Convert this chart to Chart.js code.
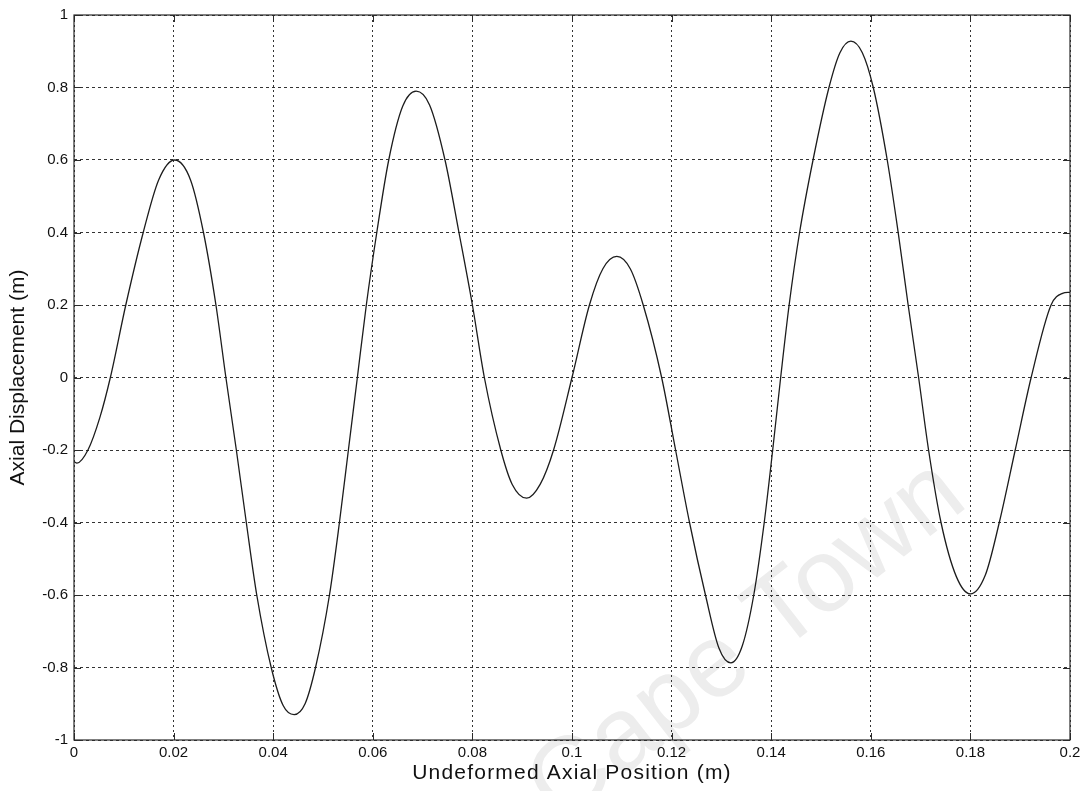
<!DOCTYPE html>
<html>
<head>
<meta charset="utf-8">
<title>Axial Displacement</title>
<script src="https://cdn.jsdelivr.net/npm/chart.js@4.4.1/dist/chart.umd.min.js"></script>
<style>
  html, body { margin: 0; padding: 0; background: #fff; }
  #wrap { width: 1086px; height: 791px; }
</style>
</head>
<body>
<div id="wrap"><canvas id="chartAxial" width="1086" height="791"></canvas></div>
<script>
// Datos: posición axial sin deformar (m) y desplazamiento axial (m)
const positionM = [
  0, 0.0006, 0.0028, 0.0052, 0.0073, 0.0104, 0.0139, 0.017, 0.0202, 0.0234,
  0.026, 0.0285, 0.0305, 0.0326, 0.0346, 0.0367, 0.0396, 0.042, 0.0442, 0.0464,
  0.0485, 0.0513, 0.0533, 0.0551, 0.0569, 0.0587, 0.0608, 0.0632, 0.066, 0.0687,
  0.0714, 0.0745, 0.0773, 0.08, 0.0824, 0.0857, 0.088, 0.0909, 0.0936, 0.0963,
  0.1, 0.1035, 0.1062, 0.109, 0.1117, 0.1143, 0.118, 0.1208, 0.1236, 0.1268,
  0.1295, 0.1319, 0.1342, 0.1365, 0.1386, 0.1403, 0.1419, 0.1436, 0.1457, 0.1484,
  0.1516, 0.1538, 0.156, 0.1583, 0.1605, 0.1633, 0.1655, 0.1675, 0.1696, 0.1716,
  0.1741, 0.1772, 0.18, 0.183, 0.1858, 0.189, 0.1922, 0.1962, 0.1985, 0.2
];
const displacementM = [
  -0.232, -0.236, -0.2, -0.11, 0, 0.2, 0.4, 0.545, 0.6, 0.545,
  0.4, 0.2, 0, -0.2, -0.4, -0.6, -0.8, -0.905, -0.93, -0.9,
  -0.8, -0.6, -0.4, -0.2, 0, 0.2, 0.4, 0.6, 0.748, 0.79,
  0.752, 0.6, 0.4, 0.2, 0, -0.2, -0.295, -0.333, -0.295, -0.2,
  0, 0.2, 0.3, 0.334, 0.3, 0.2, 0, -0.2, -0.4, -0.6,
  -0.746, -0.787, -0.74, -0.6, -0.4, -0.2, 0, 0.2, 0.4, 0.6,
  0.8, 0.896, 0.928, 0.896, 0.8, 0.6, 0.4, 0.2, 0, -0.2,
  -0.4, -0.55, -0.597, -0.545, -0.4, -0.2, 0, 0.2, 0.232, 0.235
];

const xTickValues = [0, 0.02, 0.04, 0.06, 0.08, 0.1, 0.12, 0.14, 0.16, 0.18, 0.2];
const xTickLabels = ['0', '0.02', '0.04', '0.06', '0.08', '0.1', '0.12', '0.14', '0.16', '0.18', '0.2'];
const yTickValues = [-1, -0.8, -0.6, -0.4, -0.2, 0, 0.2, 0.4, 0.6, 0.8, 1];
const yTickLabels = ['-1', '-0.8', '-0.6', '-0.4', '-0.2', '0', '0.2', '0.4', '0.6', '0.8', '1'];

const FONT = '"Liberation Sans", Arial, Helvetica, sans-serif';

// marco del área y marcas de escala hacia adentro (estilo matlab)
const frameTicks = {
	id: 'frameTicks',
	afterDraw(chart) {
		const {ctx, chartArea: a, scales} = chart;
		const len = 7;
		ctx.save();
		ctx.strokeStyle = '#2a2a2a';
		ctx.lineWidth = 1;
		ctx.beginPath();
		scales.x.ticks.forEach(t => {
			const px = Math.round(scales.x.getPixelForValue(t.value)) + 0.5;
			ctx.moveTo(px, a.bottom); ctx.lineTo(px, a.bottom - len);
			ctx.moveTo(px, a.top); ctx.lineTo(px, a.top + len);
		});
		scales.y.ticks.forEach(t => {
			const py = Math.round(scales.y.getPixelForValue(t.value)) + 0.5;
			ctx.moveTo(a.left, py); ctx.lineTo(a.left + len, py);
			ctx.moveTo(a.right, py); ctx.lineTo(a.right - len, py);
		});
		ctx.stroke();
		ctx.lineWidth = 1.2;
		ctx.strokeRect(a.left, a.top, a.right - a.left, a.bottom - a.top);
		ctx.restore();
	}
};

// el titulo del eje x va algo mas espaciado
const titleSpacing = {
	id: 'titleSpacing',
	afterLayout(chart) {
		const sx = chart.scales.x;
		if (sx._spaced) return;
		const drawTitle = sx.drawTitle;
		sx.drawTitle = function () {
			this.ctx.save();
			this.ctx.letterSpacing = '1.2px';
			drawTitle.call(this);
			this.ctx.restore();
		};
		sx._spaced = true;
	}
};

// marca de agua gris claro
const watermark = {
	id: 'watermark',
	beforeDraw(chart) {
		const {ctx} = chart;
		ctx.save();
		ctx.translate(765, 665);
		ctx.rotate(-38 * Math.PI / 180);
		ctx.font = '104px ' + FONT;
		ctx.fillStyle = '#ededed';
		ctx.textAlign = 'center';
		ctx.textBaseline = 'alphabetic';
		ctx.fillText('Cape Town', 0, 0);
		ctx.restore();
	}
};

const chartAxial = new Chart(
	document.getElementById('chartAxial'),
	{
		type: 'line',
		data: {
			datasets: [{
				data: positionM.map((x, i) => ({x: x, y: displacementM[i]})),
				borderColor: '#1c1c1c',
				borderWidth: 1.3,
				pointRadius: 0,
				fill: false,
				cubicInterpolationMode: 'monotone'
			}]
		},
		options: {
			responsive: false,
			animation: false,
			layout: {
				padding: {top: 15, right: 16, left: 0, bottom: 0}
			},
			plugins: {
				legend: {display: false},
				tooltip: {enabled: false}
			},
			scales: {
				x: {
					type: 'linear',
					min: 0,
					max: 0.2,
					afterBuildTicks: axis => {
						axis.ticks = xTickValues.map(v => ({value: v}));
					},
					afterFit: axis => { axis.height = 51; },
					ticks: {
						callback: (value, index) => xTickLabels[index],
						color: '#111',
						font: {family: FONT, size: 15},
						padding: 4,
						maxRotation: 0,
						autoSkip: false
					},
					grid: {
						color: '#333',
						lineWidth: 1,
						drawTicks: false,
						borderDash: [2, 3]
					},
					border: {display: false, dash: [2, 3]},
					title: {
						display: true,
						text: 'Undeformed Axial Position (m)',
						color: '#111',
						font: {family: FONT, size: 21},
						padding: {top: 0, bottom: 5}
					}
				},
				y: {
					type: 'linear',
					min: -1,
					max: 1,
					afterBuildTicks: axis => {
						axis.ticks = yTickValues.map(v => ({value: v}));
					},
					afterFit: axis => { axis.width = 74; },
					ticks: {
						callback: (value, index) => yTickLabels[index],
						color: '#111',
						font: {family: FONT, size: 15},
						padding: 6,
						autoSkip: false
					},
					grid: {
						color: '#333',
						lineWidth: 1,
						drawTicks: false,
						borderDash: [3, 3]
					},
					border: {display: false, dash: [3, 3]},
					title: {
						display: true,
						text: 'Axial Displacement (m)',
						color: '#111',
						font: {family: FONT, size: 21},
						padding: {top: 6, bottom: 0}
					}
				}
			}
		},
		plugins: [watermark, titleSpacing, frameTicks]
	}
);
</script>
</body>
</html>
